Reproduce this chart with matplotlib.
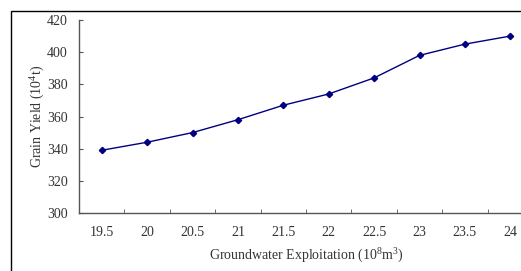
import numpy as np
import matplotlib
matplotlib.use("Agg")
import matplotlib.pyplot as plt
from matplotlib.patches import Rectangle

# Data
exploitation = ["19.5", "20", "20.5", "21", "21.5", "22", "22.5", "23", "23.5", "24"]
grain_yield = [339, 344, 350, 358, 367, 374, 384, 398, 405, 410]

plt.rcParams['font.family'] = ['Liberation Serif', 'DejaVu Serif']
plt.rcParams['font.size'] = 10
text_color = '#333333'

W, H = 521, 271
fig = plt.figure(figsize=(W / 100, H / 100), dpi=100)

# Axes placed in pixel terms (plot area runs past the right edge, as in the reference)
left, right, top, bottom = 79, 533, 20, 213
ax = fig.add_axes([left / W, 1 - bottom / H, (right - left) / W, (bottom - top) / H])

x = np.arange(len(exploitation))
ax.plot(x, grain_yield, color='#000080', lw=1.0, marker='D', markersize=3.2,
        markerfacecolor='#000080', markeredgecolor='#000080', clip_on=False)

ax.set_xlim(-0.5, len(exploitation) - 0.5)
ax.set_ylim(300, 420)
ax.set_yticks(np.arange(300, 421, 20))
ax.set_xticks(x)
ax.set_xticklabels(exploitation)
ax.set_xticks(x[:-1] + 0.5, minor=True)

for side in ['top', 'right']:
    ax.spines[side].set_visible(False)
for side in ['left', 'bottom']:
    ax.spines[side].set_color('#555555')
    ax.spines[side].set_linewidth(1.0)

ax.tick_params(axis='x', which='major', length=0, pad=9, colors=text_color)
ax.tick_params(axis='x', which='minor', length=3, direction='in', color='#555555')
ax.tick_params(axis='y', length=3, direction='in', pad=8, color='#555555',
               labelcolor=text_color)

ax.set_xlabel(r"Groundwater Exploitation (10$^\mathregular{8}$m$^\mathregular{3}$)",
              color=text_color, labelpad=5)
ax.set_ylabel(r"Grain Yield (10$^\mathregular{4}$t)", color=text_color, labelpad=1)

# outer chart frame
fig.patches.append(Rectangle((11 / W, -0.5), 2, 0.5 + 1 - 11 / H,
                             transform=fig.transFigure, fill=False,
                             edgecolor='black', lw=1.0))

fig.savefig("out.png", dpi=100)
